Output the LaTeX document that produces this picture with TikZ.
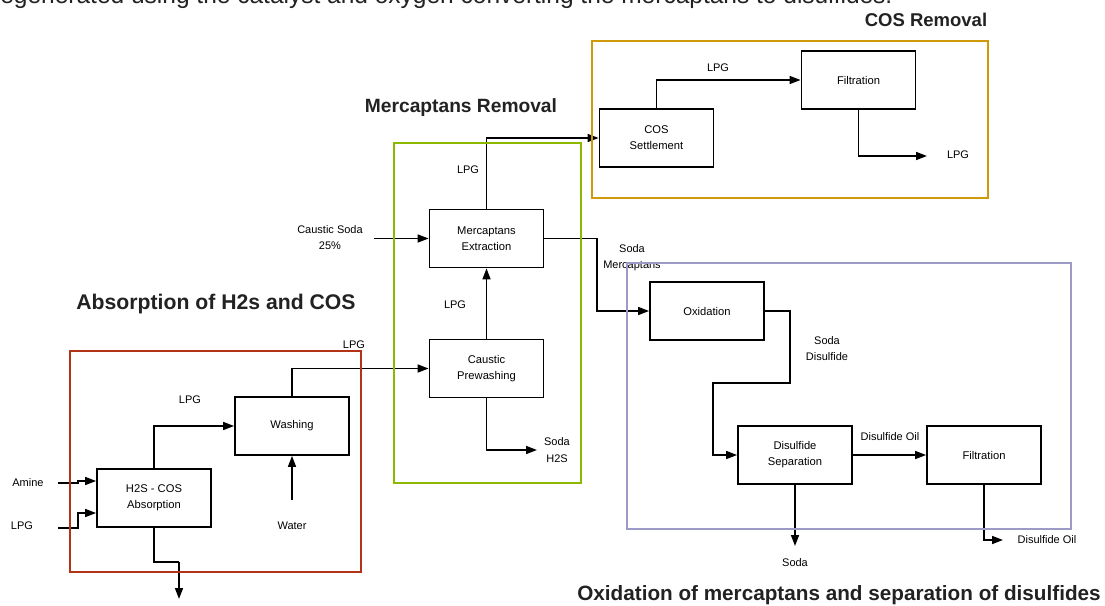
\documentclass[tikz,border=0pt]{standalone}
\usepackage{fontspec}
\setmainfont{Liberation Sans}
\usetikzlibrary{arrows.meta}
\definecolor{goldc}{RGB}{207,154,10}
\definecolor{greenc}{RGB}{141,184,0}
\definecolor{redc}{RGB}{178,52,22}
\definecolor{purplec}{RGB}{158,154,200}
\definecolor{headc}{RGB}{34,34,34}
\tikzset{
  box/.style={draw=black, line width=1.8pt, minimum width=114pt, minimum height=58pt, align=center, inner sep=0pt, font=\fontsize{11.2}{16}\selectfont},
  lbl/.style={align=center, inner sep=0pt, font=\fontsize{11}{16.5}\selectfont},
  arr/.style={draw=black, line width=1.6pt, -{Triangle[length=11pt,width=8pt]}},
  ln/.style={draw=black, line width=1.6pt},
  grp/.style={line width=2.8pt},
  head/.style={inner sep=0pt, text=headc, font=\bfseries}
}
\begin{document}
\begin{tikzpicture}[x=1pt,y=-1pt]
\useasboundingbox (0,0) rectangle (1105,605);
\fill[white] (0,0) rectangle (1105,605);

% cut-off text at the top
\node[anchor=base west, inner sep=0pt, text=headc, font=\fontsize{24.5}{28}\selectfont] (toptext) at (-8,3.5) {regenerated using the catalyst and oxygen converting the mercaptans to disulfides.};

% headings
\node[head, font=\fontsize{18.5}{22}\selectfont\bfseries] (hcos) at (926,20) {COS Removal};
\node[head, font=\fontsize{19.2}{22}\selectfont\bfseries] (hmer) at (461,108) {Mercaptans Removal};
\node[head, font=\fontsize{21.2}{24}\selectfont\bfseries] (habs) at (216,304) {Absorption of H2s and COS};
\node[head, font=\fontsize{20.7}{24}\selectfont\bfseries] (hox) at (839,595) {Oxidation of mercaptans and separation of disulfides};

% process boxes
\node[box] (abs) at (154,498) {H2S - COS\\Absorption};
\node[box] (wash) at (292,426) {Washing};
\node[box] (prew) at (486.5,368.5) {Caustic\\Prewashing};
\node[box] (ext) at (486.5,238.5) {Mercaptans\\Extraction};
\node[box] (cos) at (656.5,138) {COS\\Settlement};
\node[box] (filt1) at (858.5,80) {Filtration};
\node[box] (ox) at (707,311) {Oxidation};
\node[box] (ds) at (795,455) {Disulfide\\Separation};
\node[box] (filt2) at (984,455) {Filtration};

% free ends
\coordinate (am0) at (58,483);
\coordinate (am1) at (78,481);
\coordinate (lp0) at (58,528);
\coordinate (lp1) at (78,513);
\coordinate (ab1) at (179,562);
\coordinate (ab2) at (179,599);
\coordinate (wat) at (292,500);
\coordinate (cs) at (374,238.5);
\coordinate (sm) at (597,311);
\coordinate (sh) at (537,450);
\coordinate (lpo) at (927,156);
\coordinate (c1) at (790,383);
\coordinate (c2) at (713,455);
\coordinate (so) at (795,546);
\coordinate (doo) at (1003,540);

% labels
\node[lbl] (tamine) at (28,483) {Amine};
\node[lbl] (tlpgin) at (22,526) {LPG};
\node[lbl] (tlpg1) at (190,400) {LPG};
\node[lbl] (twater) at (292,526) {Water};
\node[lbl] (tlpg2) at (354,345) {LPG};
\node[lbl] (tlpg3) at (455,305) {LPG};
\node[lbl] (tlpg4) at (468,170) {LPG};
\node[lbl] (tcs) at (330,237.5) {Caustic Soda\\25\%};
\node[lbl] (tsh) at (557,450) {Soda\\H2S};
\node[lbl] (tsm) at (632,257.5) {Soda\\Mercaptans};
\node[lbl] (tlpg5) at (718,68) {LPG};
\node[lbl] (tlpg6) at (958,155) {LPG};
\node[lbl] (tsd) at (827,348.5) {Soda\\Disulfide};
\node[lbl] (tdo1) at (890,437) {Disulfide Oil};
\node[lbl] (tsoda) at (795,563) {Soda};
\node[lbl] (tdo2) at (1047,540) {Disulfide Oil};

% connectors
\draw[arr] (am0) -| (am1) -- (am1 -| abs.west);
\draw[arr] (lp0) -| (lp1) -- (lp1 -| abs.west);
\draw[arr] (abs.north) |- (wash.west);
\draw[ln] (abs.south) |- (ab1);
\draw[arr] (ab1) -- (ab2);
\draw[arr] (wat) -- (wash.south);
\draw[arr] (wash.north) |- (prew.west);
\draw[arr] (prew.north) -- (ext.south);
\draw[arr] (prew.south) |- (sh);
\draw[arr] (cs) -- (ext.west);
\draw[arr] (ext.north) |- (cos.west);
\draw[arr] (ext.east) -| (sm) -- (ox.west);
\draw[arr] (cos.north) |- (filt1.west);
\draw[arr] (filt1.south) |- (lpo);
\draw[arr] (ox.east) -| (c1) -| (c2) -- (ds.west);
\draw[arr] (ds.east) -- (filt2.west);
\draw[arr] (ds.south) -- (so);
\draw[arr] (filt2.south) |- (doo);

% group borders
\draw[grp, draw=goldc] (592,41) rectangle (988,198);
\draw[grp, draw=greenc] (394,143) rectangle (581,483);
\draw[grp, draw=redc] (70,351) rectangle (361,572);
\draw[grp, draw=purplec] (627,263) rectangle (1071,529);
\end{tikzpicture}
\end{document}
